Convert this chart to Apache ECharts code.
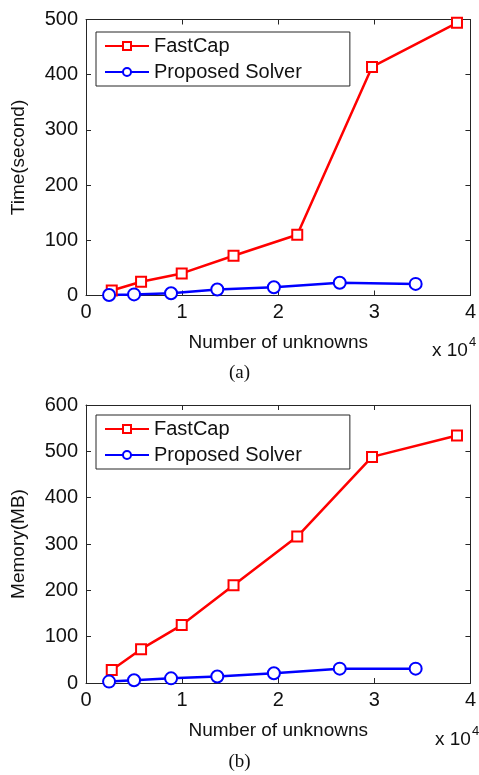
<!DOCTYPE html>
<html>
<head>
<meta charset="utf-8">
<script src="https://cdn.jsdelivr.net/npm/echarts@6/dist/echarts.min.js"></script>
<style>
html,body{margin:0;padding:0;background:#fff;}
#c{width:479px;height:775px;}
</style>
</head>
<body>
<div id="c"></div>
<script>
// Data (number of unknowns)
const fastcapN = [2680, 5730, 9960, 15350, 21980, 29760, 38600];
const proposedN = [2400, 5000, 8850, 13660, 19550, 26400, 34300];
const timeFastCap = [9, 25, 40, 72, 110, 414, 494];
const timeProposed = [1, 2, 4, 11, 15, 23, 21];
const memFastCap = [28, 73, 125, 211, 316, 488, 534];
const memProposed = [3, 6, 10, 14, 21, 31, 31];
const seriesNames = ['FastCap', 'Proposed Solver'];

const FONT = 'Liberation Sans, Arial, sans-serif';
const SERIF = 'Liberation Serif, Times New Roman, serif';
const axisColor = '#262626';
const RED = '#ff0000', BLUE = '#0000ff';

function pairs(xs, ys){ return xs.map((x,i)=>[x, ys[i]]); }

function xAxes(gi){
  const base = {
    gridIndex: gi, type: 'value', min: 0, max: 40000, interval: 10000,
    axisLine: {show: true, onZero: false, lineStyle: {color: axisColor, width: 1}},
    axisTick: {show: true, inside: true, length: 5, lineStyle: {color: axisColor}},
    splitLine: {show: false}
  };
  return [
    Object.assign({}, base, {
      position: 'bottom',
      axisLabel: {show: true, color: '#111', fontFamily: FONT, fontSize: 20, margin: 7,
        formatter: v => String(v / 10000)},
      name: 'Number of unknowns', nameLocation: 'middle', nameGap: 38,
      nameTextStyle: {color: '#111', fontFamily: FONT, fontSize: 19}
    }),
    Object.assign({}, base, {position: 'top', axisLabel: {show: false}})
  ];
}
function yAxes(gi, max, name){
  const base = {
    gridIndex: gi, type: 'value', min: 0, max: max, interval: 100,
    axisLine: {show: true, onZero: false, lineStyle: {color: axisColor, width: 1}},
    axisTick: {show: true, inside: true, length: 5, lineStyle: {color: axisColor}},
    splitLine: {show: false}
  };
  return [
    Object.assign({}, base, {
      position: 'left',
      axisLabel: {show: true, color: '#111', fontFamily: FONT, fontSize: 20, margin: 8},
      name: name, nameLocation: 'middle', nameGap: 58, nameRotate: 90,
      nameTextStyle: {color: '#111', fontFamily: FONT, fontSize: 19}
    }),
    Object.assign({}, base, {position: 'right', axisLabel: {show: false}})
  ];
}
function lineSeries(name, data, gi, color, symbol, size){
  return {
    name: name, type: 'line', data: data,
    xAxisIndex: gi * 2, yAxisIndex: gi * 2,
    symbol: symbol, symbolSize: size, showSymbol: true,
    lineStyle: {color: color, width: 2.5},
    itemStyle: {color: color, borderColor: color, borderWidth: 2.5},
    emphasis: {disabled: true},
    animation: false, z: 3
  };
}
function legend(gi, top){
  return {
    show: true, orient: 'vertical', left: 96, top: top,
    data: seriesNames.map(n => ({name: n})),
    backgroundColor: '#fff', borderColor: '#262626', borderWidth: 1,
    padding: [4, 48, 4, 8], itemGap: 6, itemWidth: 44, itemHeight: 10,
    textStyle: {color: '#111', fontFamily: FONT, fontSize: 20},
    selectedMode: false
  };
}
const expRich = {
  a: {fontFamily: FONT, fontSize: 19, fontWeight: 'normal', color: '#111', verticalAlign: 'bottom', lineHeight: 24},
  b: {fontFamily: FONT, fontSize: 13, fontWeight: 'normal', color: '#111', verticalAlign: 'top', lineHeight: 24, padding: [0, 0, 12, 1]}
};

const chart = echarts.init(document.getElementById('c'), null, {renderer: 'canvas'});
const xa = xAxes(0).concat(xAxes(1));
const ya = yAxes(0, 500, 'Time(second)').concat(yAxes(1, 600, 'Memory(MB)'));

const option = {
  animation: false,
  backgroundColor: '#fff',
  grid: [
    {left: 86, top: 19.5, width: 390, height: 276},
    {left: 86, top: 405, width: 392, height: 278}
  ],
  xAxis: xa,
  yAxis: ya,
  legend: [legend(0, 32), legend(1, 415)],
  title: [
    {text: '{a|x 10}{b|4}', left: 432, top: 336, padding: 0,
      textStyle: {fontWeight: 'normal', rich: expRich}},
    {text: '{a|x 10}{b|4}', left: 435, top: 725, padding: 0,
      textStyle: {fontWeight: 'normal', rich: expRich}},
    {text: '(a)', left: 'center', top: 364, padding: 0,
      textStyle: {fontFamily: SERIF, fontSize: 19, fontWeight: 'normal', color: '#111'}},
    {text: '(b)', left: 'center', top: 753, padding: 0,
      textStyle: {fontFamily: SERIF, fontSize: 19, fontWeight: 'normal', color: '#111'}}
  ],
  series: [
    lineSeries('FastCap', pairs(fastcapN, timeFastCap), 0, RED, 'emptyRect', 10),
    lineSeries('Proposed Solver', pairs(proposedN, timeProposed), 0, BLUE, 'emptyCircle', 12),
    lineSeries('FastCap', pairs(fastcapN, memFastCap), 1, RED, 'emptyRect', 10),
    lineSeries('Proposed Solver', pairs(proposedN, memProposed), 1, BLUE, 'emptyCircle', 12)
  ]
};
chart.setOption(option);
</script>
</body>
</html>
